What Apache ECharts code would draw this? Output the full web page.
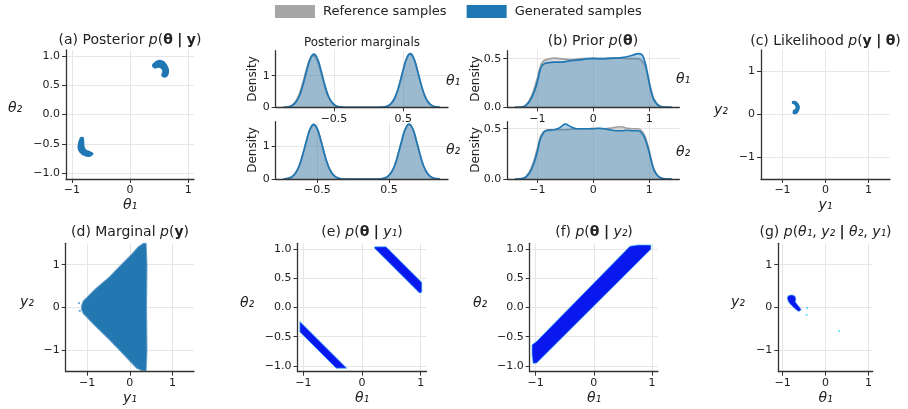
<!DOCTYPE html>
<html>
<head>
<meta charset="utf-8">
<script src="https://cdn.jsdelivr.net/npm/echarts@6/dist/echarts.min.js"></script>
<style>
  html, body { margin: 0; padding: 0; background: #fff; }
  #c { width: 908px; height: 409px; }
</style>
</head>
<body>
<div id="c"></div>
<script>
// ---- values ----
const legendNames = ['Reference samples', 'Generated samples']

// posterior marginals, [theta, density]
const postTheta1Gen = [[-1.23,0],[-1.19,0.006],[-1.14,0.024],[-1.09,0.073],[-1.04,0.19],[-0.99,0.41],[-0.94,0.77],[-0.89,1.19],[-0.84,1.54],[-0.79,1.68],[-0.74,1.54],[-0.69,1.19],[-0.64,0.77],[-0.59,0.41],[-0.54,0.19],[-0.49,0.073],[-0.44,0.024],[-0.39,0.006],[-0.3,0],[0.11,0],[0.2,0.006],[0.25,0.024],[0.3,0.073],[0.35,0.19],[0.4,0.42],[0.45,0.78],[0.5,1.2],[0.55,1.56],[0.6,1.7],[0.65,1.56],[0.7,1.2],[0.75,0.78],[0.8,0.42],[0.85,0.19],[0.9,0.073],[0.95,0.024],[1.0,0.006],[1.03,0]]
const postTheta1Ref = [[-1.23,0],[-1.2,0.006],[-1.15,0.026],[-1.1,0.078],[-1.05,0.2],[-1.0,0.42],[-0.95,0.77],[-0.9,1.17],[-0.85,1.5],[-0.8,1.64],[-0.75,1.52],[-0.7,1.18],[-0.65,0.78],[-0.6,0.42],[-0.55,0.2],[-0.5,0.075],[-0.45,0.024],[-0.4,0.006],[-0.3,0],[0.11,0],[0.2,0.006],[0.25,0.024],[0.3,0.073],[0.35,0.19],[0.4,0.42],[0.45,0.77],[0.5,1.18],[0.55,1.53],[0.6,1.68],[0.65,1.54],[0.7,1.19],[0.75,0.78],[0.8,0.42],[0.85,0.19],[0.9,0.073],[0.95,0.024],[1.0,0.006],[1.03,0]]
const postTheta2Gen = [[-0.97,0],[-0.95,0.006],[-0.9,0.024],[-0.85,0.073],[-0.8,0.19],[-0.75,0.41],[-0.7,0.76],[-0.65,1.17],[-0.6,1.52],[-0.55,1.66],[-0.5,1.52],[-0.45,1.17],[-0.4,0.76],[-0.35,0.41],[-0.3,0.19],[-0.25,0.073],[-0.2,0.024],[-0.15,0.006],[-0.08,0],[0.32,0],[0.38,0.006],[0.43,0.024],[0.48,0.073],[0.53,0.19],[0.58,0.41],[0.63,0.77],[0.68,1.18],[0.73,1.53],[0.78,1.67],[0.83,1.53],[0.88,1.18],[0.93,0.77],[0.98,0.41],[1.03,0.19],[1.08,0.073],[1.13,0.024],[1.18,0.006],[1.21,0]]
const postTheta2Ref = [[-0.97,0],[-0.95,0.007],[-0.9,0.027],[-0.85,0.08],[-0.8,0.2],[-0.75,0.42],[-0.7,0.77],[-0.65,1.16],[-0.6,1.5],[-0.55,1.64],[-0.5,1.51],[-0.45,1.17],[-0.4,0.77],[-0.35,0.42],[-0.3,0.2],[-0.25,0.075],[-0.2,0.024],[-0.15,0.006],[-0.08,0],[0.32,0],[0.38,0.006],[0.43,0.025],[0.48,0.076],[0.53,0.2],[0.58,0.42],[0.63,0.78],[0.68,1.18],[0.73,1.52],[0.78,1.65],[0.83,1.52],[0.88,1.18],[0.93,0.77],[0.98,0.41],[1.03,0.19],[1.08,0.073],[1.13,0.024],[1.18,0.006],[1.21,0]]

// prior marginals, [theta, density]
const priorTheta1Gen = [[-1.4,0],[-1.3,0.002],[-1.2,0.02],[-1.1,0.1],[-1.0,0.26],[-0.95,0.38],[-0.9,0.44],[-0.8,0.46],[-0.7,0.465],[-0.6,0.465],[-0.5,0.47],[-0.4,0.48],[-0.3,0.485],[-0.2,0.49],[-0.1,0.5],[0,0.5],[0.1,0.5],[0.2,0.5],[0.3,0.505],[0.4,0.505],[0.5,0.51],[0.6,0.52],[0.7,0.535],[0.8,0.552],[0.86,0.545],[0.92,0.47],[0.96,0.37],[1.0,0.25],[1.05,0.13],[1.1,0.06],[1.2,0.008],[1.3,0.001],[1.4,0]]
const priorTheta1Ref = [[-1.4,0],[-1.3,0.003],[-1.2,0.025],[-1.1,0.12],[-1.0,0.3],[-0.95,0.41],[-0.9,0.47],[-0.8,0.495],[-0.7,0.505],[-0.6,0.5],[-0.5,0.495],[-0.4,0.49],[-0.3,0.495],[-0.2,0.5],[-0.1,0.5],[0,0.505],[0.1,0.5],[0.2,0.5],[0.3,0.5],[0.4,0.505],[0.5,0.505],[0.6,0.5],[0.7,0.5],[0.8,0.5],[0.86,0.48],[0.92,0.43],[0.96,0.35],[1.0,0.25],[1.05,0.14],[1.1,0.07],[1.2,0.01],[1.3,0.001],[1.4,0]]
const priorTheta2Gen = [[-1.4,0],[-1.3,0.002],[-1.2,0.02],[-1.1,0.1],[-1.0,0.27],[-0.95,0.39],[-0.9,0.45],[-0.85,0.48],[-0.7,0.49],[-0.6,0.51],[-0.5,0.545],[-0.4,0.52],[-0.3,0.5],[-0.2,0.5],[-0.1,0.5],[0,0.5],[0.1,0.505],[0.2,0.5],[0.3,0.49],[0.4,0.48],[0.5,0.48],[0.6,0.485],[0.7,0.48],[0.8,0.48],[0.86,0.46],[0.91,0.42],[0.96,0.34],[1.0,0.26],[1.05,0.15],[1.1,0.07],[1.2,0.012],[1.3,0.001],[1.4,0]]
const priorTheta2Ref = [[-1.4,0],[-1.3,0.003],[-1.2,0.025],[-1.1,0.12],[-1.0,0.3],[-0.95,0.41],[-0.9,0.46],[-0.8,0.49],[-0.7,0.49],[-0.5,0.49],[-0.3,0.5],[-0.1,0.5],[0,0.505],[0.2,0.5],[0.3,0.505],[0.4,0.515],[0.5,0.52],[0.6,0.505],[0.7,0.5],[0.8,0.5],[0.86,0.48],[0.91,0.44],[0.96,0.36],[1.0,0.28],[1.05,0.16],[1.1,0.08],[1.2,0.01],[1.3,0.001],[1.4,0]]

// sample clouds, outlined as [x, y] polygons
const postCloudUpper = [[0.39,0.835],[0.44,0.895],[0.508,0.92],[0.585,0.895],[0.632,0.83],[0.658,0.76],[0.647,0.68],[0.60,0.64],[0.55,0.665],[0.568,0.744],[0.537,0.795],[0.485,0.812],[0.43,0.795]]
const postCloudLower = [[-0.85,-0.40],[-0.89,-0.56],[-0.855,-0.645],[-0.775,-0.70],[-0.69,-0.71],[-0.64,-0.667],[-0.70,-0.635],[-0.765,-0.605],[-0.795,-0.54],[-0.805,-0.40]]
const likeCloud = [[-0.76,0.30],[-0.70,0.30],[-0.64,0.25],[-0.61,0.18],[-0.63,0.09],[-0.69,0.02],[-0.75,0.03],[-0.74,0.09],[-0.69,0.13],[-0.69,0.2],[-0.73,0.25],[-0.77,0.27]]
const margCloud = [[-1.13,0.04],[-1.09,0.15],[-0.8,0.44],[-0.48,0.71],[-0.2,1.0],[0.05,1.25],[0.2,1.42],[0.32,1.5],[0.38,1.5],[0.40,1.0],[0.39,0.0],[0.40,-1.0],[0.38,-1.48],[0.3,-1.48],[0.16,-1.42],[-0.2,-1.04],[-0.5,-0.73],[-0.8,-0.44],[-1.09,-0.14],[-1.13,-0.04]]
const margStray = [[-1.19,0.1],[-1.17,-0.08]]
const condY1Upper = [[0.22,1.04],[0.41,1.04],[1.02,0.43],[1.02,0.26],[0.98,0.25],[0.21,1.02]]
const condY1Lower = [[-1.06,-0.24],[-0.26,-1.04],[-0.44,-1.04],[-1.06,-0.42]]
const condY2Band = [[-1.06,-0.64],[-0.98,-0.58],[0.62,1.05],[0.75,1.07],[0.98,1.07],[0.98,1.0],[-0.98,-0.95],[-1.04,-0.96],[-1.06,-0.82]]
const condGCloud = [[-0.89,0.22],[-0.87,0.27],[-0.79,0.29],[-0.72,0.27],[-0.69,0.2],[-0.70,0.13],[-0.6,0.0],[-0.57,-0.06],[-0.63,-0.09],[-0.72,-0.02],[-0.8,0.06],[-0.86,0.13]]
const condGStray = [[-0.43,-0.01],[-0.44,-0.17],[0.32,-0.55]]

// tick positions
const ticksUnit = [-1, 0, 1]
const ticksHalf = [-1, -0.5, 0, 0.5, 1]
const ticksMarg = [-0.5, 0.5]
const ticksDensPost = [0, 1]
const ticksDensPrior = [0, 0.5]

// ---- layout ----
const FONT = 'DejaVu Sans'
const INK = '#222'
const GEN = '#1f77b4'
const REF = '#a6a6a6'
const COND = '#0a18f0'

// [left, top, width, height], x [min, max, ticks, decimals], y [...]
const panels = [
  { box: [66, 50, 128, 129], x: [-1.1, 1.1, ticksUnit, 0], y: [-1.1, 1.1, ticksHalf, 1] },
  { box: [275.7, 50.7, 172.3, 56.6], x: [-1.341, 1.145, ticksMarg, 1], y: [0, 1.79, ticksDensPost, 0] },
  { box: [275.7, 121.7, 172.3, 57.3], x: [-1.08, 1.323, ticksMarg, 1], y: [0, 1.74, ticksDensPost, 0] },
  { box: [507.3, 50.7, 172, 56.6], x: [-1.536, 1.536, ticksUnit, 0], y: [0, 0.582, ticksDensPrior, 1] },
  { box: [507.3, 121.7, 172, 57.3], x: [-1.536, 1.536, ticksUnit, 0], y: [0, 0.57, ticksDensPrior, 1] },
  { box: [761, 50, 129, 129], x: [-1.5, 1.5, ticksUnit, 0], y: [-1.5, 1.5, ticksUnit, 0] },
  { box: [65.7, 243.3, 128.3, 128.4], x: [-1.5, 1.5, ticksUnit, 0], y: [-1.5, 1.5, ticksUnit, 0] },
  { box: [297.5, 243.3, 129, 128.4], x: [-1.1, 1.1, ticksUnit, 0], y: [-1.1, 1.1, ticksHalf, 1] },
  { box: [529.7, 243.3, 128.2, 128.4], x: [-1.1, 1.1, ticksUnit, 0], y: [-1.1, 1.1, ticksHalf, 1] },
  { box: [778.3, 243.3, 94.4, 128.4], x: [-1.1, 1.1, ticksUnit, 0], y: [-1.5, 1.5, ticksUnit, 0] },
]

function fmt(v, d) {
  return (v < 0 ? '\u2212' : '') + Math.abs(v).toFixed(d)
}

function axis(i, spec) {
  const [min, max, ticks, d] = spec
  return {
    type: 'value', gridIndex: i, min, max, z: 5,
    axisLine: { show: true, onZero: false, lineStyle: { color: '#333', width: 1.3 } },
    axisTick: { show: true, length: 4, customValues: ticks, lineStyle: { color: '#333', width: 1 } },
    axisLabel: { customValues: ticks, formatter: v => fmt(v, d), fontSize: 11, fontFamily: FONT, color: INK, margin: 6 },
    splitLine: { show: false },
  }
}

const grid = panels.map(p => ({ left: p.box[0], top: p.box[1], width: p.box[2], height: p.box[3] }))
const xAxis = panels.map((p, i) => axis(i, p.x))
const yAxis = panels.map((p, i) => axis(i, p.y))

// light grid lines under the data
const series = panels.map((p, i) => ({
  type: 'line', xAxisIndex: i, yAxisIndex: i, data: [], silent: true, z: 0,
  markLine: {
    z: 0, silent: true, symbol: 'none', animation: false, label: { show: false },
    lineStyle: { color: '#e6e6e6', width: 1, type: 'solid' },
    emphasis: { disabled: true },
    data: p.x[2].map(v => ({ xAxis: v })).concat(p.y[2].map(v => ({ yAxis: v }))),
  },
}))

function density(i, data, ref) {
  return {
    type: 'line', name: ref ? legendNames[0] : legendNames[1],
    xAxisIndex: i, yAxisIndex: i, data, showSymbol: false, symbol: 'none',
    smooth: 0.5, silent: true, z: ref ? 2 : 3,
    itemStyle: { color: ref ? REF : GEN },
    lineStyle: { color: ref ? '#9f9f9f' : GEN, width: 1.7 },
    areaStyle: { color: ref ? '#a0a0a0' : GEN, opacity: 0.35 },
  }
}

function cloud(i, pts, fill, stroke, width, smooth) {
  return {
    type: 'custom', xAxisIndex: i, yAxisIndex: i, data: pts, silent: true, z: 3, clip: false,
    renderItem(params, api) {
      if (params.dataIndex !== 0) return null
      return {
        type: 'polygon',
        shape: { points: pts.map(p => api.coord(p)), smooth: smooth || 0 },
        style: { fill, stroke, lineWidth: width, lineJoin: 'round' },
      }
    },
  }
}

function specks(i, pts, color) {
  return { type: 'scatter', xAxisIndex: i, yAxisIndex: i, data: pts, symbolSize: 2.2, silent: true, z: 4, itemStyle: { color } }
}

series.push(
  cloud(0, postCloudUpper, GEN, GEN, 1.5, 0.3),
  cloud(0, postCloudLower, GEN, GEN, 1.5, 0.3),
  density(1, postTheta1Ref, true), density(1, postTheta1Gen, false),
  density(2, postTheta2Ref, true), density(2, postTheta2Gen, false),
  density(3, priorTheta1Ref, true), density(3, priorTheta1Gen, false),
  density(4, priorTheta2Ref, true), density(4, priorTheta2Gen, false),
  cloud(5, likeCloud, GEN, GEN, 1.2, 0.3),
  cloud(6, margCloud, '#2378b2', 'rgba(90,150,195,0.7)', 1.2, 0),
  specks(6, margStray, '#4a90c0'),
  cloud(7, condY1Upper, COND, 'rgba(50,190,240,0.8)', 0.8, 0),
  cloud(7, condY1Lower, COND, 'rgba(50,190,240,0.8)', 0.8, 0),
  cloud(8, condY2Band, COND, 'rgba(50,190,240,0.8)', 0.8, 0),
  cloud(9, condGCloud, COND, 'rgba(50,170,240,0.8)', 0.8, 0.2),
  specks(9, condGStray, '#40d8f0'),
)

// ---- texts ----
const rich = {
  i: { fontStyle: 'italic', fontSize: 14, fontFamily: FONT, fill: INK },
  b: { fontWeight: 'bold', fontSize: 14, fontFamily: FONT, fill: INK },
}
function txt(x, y, text, size, opts) {
  opts = opts || {}
  return {
    type: 'text', x, y, rotation: opts.rot || 0, silent: true, z: 10,
    style: {
      text, fontSize: size, fontFamily: FONT, fontStyle: opts.italic ? 'italic' : 'normal', fill: INK,
      align: 'center', verticalAlign: 'middle', textAlign: 'center', textVerticalAlign: 'middle', rich,
    },
  }
}
const graphic = [
  txt(130, 40, '(a) Posterior {i|p}({b|θ} {b||} {b|y})', 14),
  txt(362, 43, 'Posterior marginals', 12),
  txt(593, 41, '(b) Prior {i|p}({b|θ})', 14),
  txt(825.5, 41, '(c) Likelihood {i|p}({b|y} {b||} {b|θ})', 14),
  txt(130, 232, '(d) Marginal {i|p}({b|y})', 14),
  txt(362, 232, '(e) {i|p}({b|θ} {b||} {i|y₁})', 14),
  txt(594, 232, '(f) {i|p}({b|θ} {b||} {i|y₂})', 14),
  txt(825.5, 232, '(g) {i|p}({i|θ₁}, {i|y₂} {b||} {i|θ₂}, {i|y₁})', 14),
  txt(15, 108, 'θ₂', 14, { italic: true }), txt(130, 205, 'θ₁', 14, { italic: true }),
  txt(721, 110, 'y₂', 14, { italic: true }), txt(825.5, 205, 'y₁', 14, { italic: true }),
  txt(27, 302, 'y₂', 14, { italic: true }), txt(130, 398, 'y₁', 14, { italic: true }),
  txt(247, 303, 'θ₂', 14, { italic: true }), txt(362, 398, 'θ₁', 14, { italic: true }),
  txt(480, 303, 'θ₂', 14, { italic: true }), txt(594, 398, 'θ₁', 14, { italic: true }),
  txt(738, 302, 'y₂', 14, { italic: true }), txt(825.5, 398, 'θ₁', 14, { italic: true }),
  txt(453, 81, 'θ₁', 14, { italic: true }), txt(453, 150, 'θ₂', 14, { italic: true }),
  txt(683, 79, 'θ₁', 14, { italic: true }), txt(683, 152, 'θ₂', 14, { italic: true }),
  txt(253, 79, 'Density', 12, { rot: Math.PI / 2 }), txt(253, 150, 'Density', 12, { rot: Math.PI / 2 }),
  txt(476, 79, 'Density', 12, { rot: Math.PI / 2 }), txt(476, 150, 'Density', 12, { rot: Math.PI / 2 }),
]

const chart = echarts.init(document.getElementById('c'), null, { renderer: 'canvas' })
chart.setOption({
  animation: false,
  backgroundColor: '#fff',
  legend: {
    left: 275, top: 5, padding: 0, itemWidth: 40, itemHeight: 13, itemGap: 20, selectedMode: false,
    textStyle: { fontSize: 13, fontFamily: FONT, color: INK, padding: [0, 0, 0, 3] },
    data: [
      { name: legendNames[0], icon: 'rect', itemStyle: { color: REF, borderWidth: 0 } },
      { name: legendNames[1], icon: 'rect', itemStyle: { color: GEN, borderWidth: 0 } },
    ],
  },
  grid, xAxis, yAxis, series, graphic,
})
</script>
</body>
</html>
